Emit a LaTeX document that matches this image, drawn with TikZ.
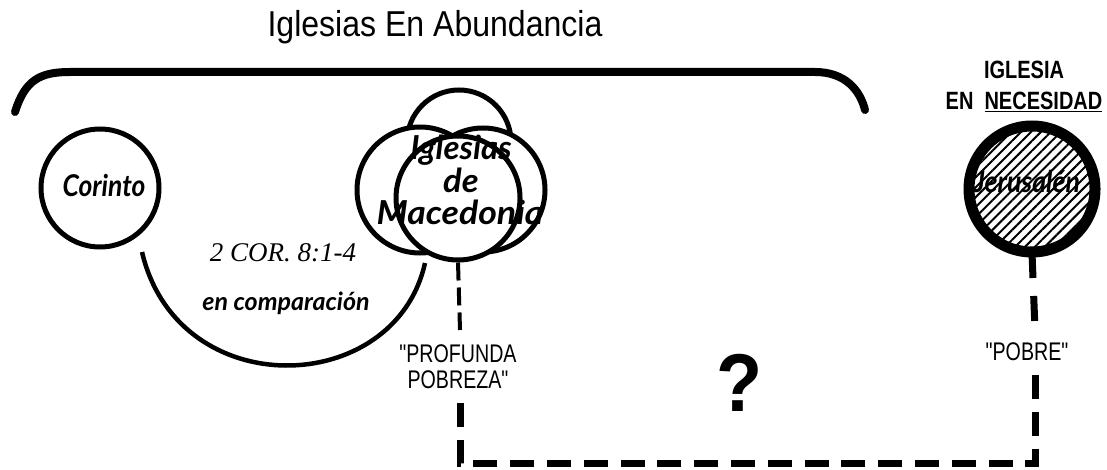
\documentclass[tikz,border=0pt]{standalone}
\usepackage{fontspec}
\setmainfont{Liberation Sans}
\newfontfamily\serifit{Liberation Serif}
\newfontfamily\hum{Lato}
\usetikzlibrary{patterns.meta}
\newcommand{\cnd}[2]{\scalebox{#1}[1]{#2}}
\newcommand{\qd}{\textquotedbl}
\tikzset{
  ring/.style={circle, draw, line width=5pt, fill=white, inner sep=0pt},
  condtxt/.style={font=\fontsize{25.5}{26}\selectfont, align=center, inner sep=1pt},
  mactext/.style={font=\hum\bfseries\itshape\fontsize{33}{33}\selectfont, anchor=base, inner sep=0pt},
  thinDash/.style={line width=4pt, dash pattern=on 18pt off 7pt},
  thickDash/.style={line width=7pt, dash pattern=on 24pt off 12.8pt},
}
\begin{document}
\begin{tikzpicture}[x=1pt,y=-1pt]
\useasboundingbox (0,0) rectangle (1107,470);
% title
\node (title) at (435,27) {\fontsize{36}{40}\selectfont\cnd{0.89}{Iglesias En Abundancia}};
% brace
\coordinate (bl) at (15,112);
\coordinate (br) at (865,110);
\draw[line width=8pt, line cap=round] (bl) .. controls (25,80) and (40,72) .. (70,72) -- (815,72) .. controls (845,72) and (860,90) .. (br);
% Corinto
\node[ring, minimum size=118pt] (cor) at (100,188) {};
\node[font=\hum\bfseries\itshape\fontsize{30}{32}\selectfont, anchor=base, inner sep=0pt] (cortxt) at (104,197) {\cnd{0.88}{Corinto}};
% Macedonia cluster
\node[ring, minimum size=104pt] (macT) at (459,142) {};
\node[ring, minimum size=126pt] (macL) at (420,190) {};
\node[ring, minimum size=124pt] (macR) at (483,190) {};
\node[ring, minimum size=124pt] (macC) at (458,198) {};
\node[mactext] (mac1) at (461,160) {\cnd{1.0}{Iglesias}};
\node[mactext] (mac2) at (461,193) {\cnd{1.05}{de}};
\node[mactext] (mac3) at (460,225) {\cnd{1.08}{Macedonia}};
% comparison arc
\coordinate (a1) at (142,252);
\coordinate (a2) at (425,263);
\draw[line width=4.5pt] (a1) .. controls (178,405) and (395,398) .. (a2);
\node[font=\serifit\itshape\fontsize{27}{30}\selectfont] (cortext) at (283,253) {2 COR. 8:1-4};
\node[font=\hum\bfseries\itshape\fontsize{25}{28}\selectfont] (comp) at (286,303) {en comparación};
% Jerusalen
\node[circle, draw, line width=11pt, inner sep=0pt, minimum size=126pt,
      pattern={Lines[angle=45,distance=7pt,line width=2pt]}] (jer) at (1032,189) {};
\node[font=\hum\bfseries\itshape\fontsize{30}{33}\selectfont, anchor=base, inner sep=0pt] (jertxt) at (1027,193) {\cnd{0.89}{Jerusalén}};
\node (igl) at (1024,70) {\fontsize{25}{28}\selectfont\cnd{0.8}{\bfseries IGLESIA}};
\node (nec) at (1024,102) {\fontsize{25}{28}\selectfont\cnd{0.8}{\bfseries EN\ \ \underline{NECESIDAD}}};
% labels
\node[condtxt] (prof) at (458,367) {\cnd{0.77}{\qd PROFUNDA}\\\cnd{0.77}{POBREZA\qd}};
\node[condtxt] (pobre) at (1027,352) {\cnd{0.77}{\qd POBRE\qd}};
\node (q) at (740,383) {\fontsize{82}{86}\selectfont\cnd{0.92}{\bfseries ?}};
% dashed connection
\coordinate (p1) at (460,330);
\coordinate (p2) at (460,402);
\coordinate (c1) at (460,463);
\coordinate (c2) at (1035,463);
\coordinate (q1) at (1035,375);
\coordinate (q2) at (1035,330);
\draw[thinDash] (macC.south) -- (p1);
\draw[thickDash] (q1) -- (c2) -- (c1) -- (p2);
\draw[thickDash, dash pattern=on 25pt off 18pt] (jer.south) -- (q2);
\end{tikzpicture}
\end{document}
